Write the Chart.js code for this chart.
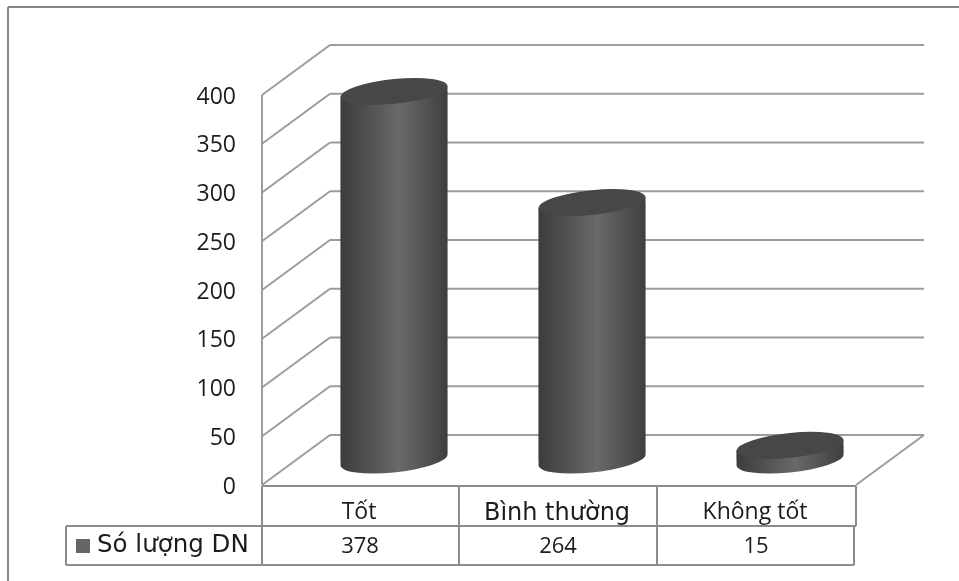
<!DOCTYPE html>
<html>
<head>
<meta charset="utf-8">
<style>
  html, body { margin: 0; padding: 0; background: #fff; }
  canvas { display: block; }
</style>
<script src="https://cdn.jsdelivr.net/npm/chart.js@4"></script>
</head>
<body>
<canvas id="chart" width="959" height="581"></canvas>
<script>
const categories = ["Tốt", "Bình thường", "Không tốt"];
const seriesName = "Só lượng DN";
const seriesValues = [378, 264, 15];
const tickLabels = ["0", "50", "100", "150", "200", "250", "300", "350", "400"];

const lineColor = "#9c9c9c";
const tableColor = "#8c8c8c";
const textColor = "#1c1c1c";
const barShare = 0.54;
const depthX = 68;
const depthY = 50;
const shear = -0.1;
const capRy = 12.4;

function sideGradient(c, center, width) {
  const g = c.createLinearGradient(center - width / 2, 0, center + width / 2, 0);
  g.addColorStop(0, "#3c3c3c");
  g.addColorStop(0.55, "#696969");
  g.addColorStop(1, "#3f3f3f");
  return g;
}

function barWidth(chart) {
  return chart.chartArea.width / categories.length * barShare;
}

function line(c, x1, y1, x2, y2) {
  c.beginPath();
  c.moveTo(x1, y1);
  c.lineTo(x2, y2);
  c.stroke();
}

// slanted ellipse, its tips stay on the edges of the bar
function slantedEllipse(c, x, y, rx) {
  c.save();
  c.transform(1, shear, 0, 1, x, y);
  c.beginPath();
  c.ellipse(0, 0, rx, capRy, 0, 0, Math.PI * 2);
  c.restore();
}

function sidePath(c, bar) {
  const rx = bar.width / 2;
  const tip = rx * shear;
  c.moveTo(bar.x - rx, bar.y - tip);
  c.lineTo(bar.x + rx, bar.y + tip);
  c.lineTo(bar.x + rx, bar.base + tip);
  c.lineTo(bar.x - rx, bar.base - tip);
  c.closePath();
}

// walls, floor and the frame round the picture
const wallsPlugin = {
  id: "walls",
  beforeDatasetsDraw(chart) {
    const c = chart.ctx;
    const { left, right } = chart.chartArea;
    const y = chart.scales.y;
    c.save();
    c.strokeStyle = "#868686";
    c.lineWidth = 2;
    line(c, 8, 7, 959, 7);
    line(c, 8, 7, 8, 581);
    c.strokeStyle = lineColor;
    tickLabels.forEach((t) => {
      const py = y.getPixelForValue(Number(t));
      line(c, left, py, left + depthX, py - depthY);
      line(c, left + depthX, py - depthY, right + depthX, py - depthY);
    });
    const zero = y.getPixelForValue(0);
    line(c, left, y.getPixelForValue(400), left, zero);
    line(c, right, zero, right + depthX, zero - depthY);
    c.restore();
  }
};

// pushes the bars to the middle of the floor and adds the ellipses
const cylinderPlugin = {
  id: "cylinder",
  beforeDatasetDraw(chart) {
    const c = chart.ctx;
    const bars = chart.getDatasetMeta(0).data;
    c.save();
    c.translate(33, -depthY / 2);
    bars.forEach((bar) => {
      c.fillStyle = sideGradient(c, bar.x, bar.width);
      slantedEllipse(c, bar.x, bar.base, bar.width / 2);
      sidePath(c, bar);
      c.fill();
    });
    c.save();
    c.beginPath();
    bars.forEach((bar) => sidePath(c, bar));
    c.clip();
  },
  afterDatasetDraw(chart) {
    const c = chart.ctx;
    c.restore();
    chart.getDatasetMeta(0).data.forEach((bar) => {
      c.fillStyle = "#474747";
      slantedEllipse(c, bar.x, bar.y, bar.width / 2);
      c.fill();
    });
    c.restore();
  }
};

// data table under the plot
const tablePlugin = {
  id: "table",
  afterDraw(chart) {
    const c = chart.ctx;
    const { left, right, bottom } = chart.chartArea;
    const x = chart.scales.x;
    const rowTop = bottom + 1;
    const rowMid = 526;
    const rowEnd = 565;
    const legendLeft = 66;
    c.save();
    c.strokeStyle = tableColor;
    c.lineWidth = 2;
    line(c, left, rowTop, right, rowTop);
    line(c, legendLeft, rowMid, right, rowMid);
    line(c, legendLeft, rowEnd, right - 2, rowEnd);
    line(c, legendLeft, rowMid, legendLeft, rowEnd);
    line(c, left, rowTop, left, rowEnd);
    const cell = x.getPixelForValue(1) - x.getPixelForValue(0);
    line(c, left + cell - 1, rowTop, left + cell - 1, rowEnd);
    line(c, left + cell * 2 - 1, rowTop, left + cell * 2 - 1, rowEnd);
    line(c, right, rowTop, right, rowMid);
    line(c, right - 2, rowMid, right - 2, rowEnd);
    c.fillStyle = "#666666";
    c.fillRect(76, 539, 14, 14);
    c.fillStyle = textColor;
    c.textBaseline = "middle";
    c.textAlign = "left";
    c.font = "24.5px 'DejaVu Sans'";
    c.fillText(seriesName, 97, 546);
    c.textAlign = "center";
    c.font = "22px 'Open Sans'";
    seriesValues.forEach((v, i) => c.fillText(String(v), x.getPixelForValue(i) - 1, 547));
    c.restore();
  }
};

new Chart(document.getElementById("chart"), {
  type: "bar",
  data: {
    labels: categories,
    datasets: [{
      label: seriesName,
      data: seriesValues,
      barPercentage: barShare,
      categoryPercentage: 1,
      borderWidth: 0,
      backgroundColor(context) {
        const chart = context.chart;
        if (!chart.chartArea || context.dataIndex === undefined) return "#555555";
        return sideGradient(chart.ctx, chart.scales.x.getPixelForValue(context.dataIndex), barWidth(chart));
      }
    }]
  },
  options: {
    responsive: false,
    animation: false,
    devicePixelRatio: 1,
    layout: { padding: { top: 95, right: 103, bottom: 0, left: 0 } },
    plugins: {
      legend: { display: false },
      tooltip: { enabled: false },
      title: { display: false }
    },
    scales: {
      x: {
        grid: { display: false, drawTicks: false },
        border: { display: false },
        afterFit(scale) { scale.height = 96; },
        ticks: {
          color: textColor,
          padding: 14,
          labelOffset: -2,
          maxRotation: 0,
          autoSkip: false,
          font(context) {
            if (context.index === 1) return { family: "'DejaVu Sans'", size: 24 };
            return { family: "'Open Sans'", size: 23 };
          }
        }
      },
      y: {
        min: 0,
        max: 400,
        grid: { display: false, drawTicks: false },
        border: { display: false },
        afterFit(scale) { scale.width = 262; },
        afterBuildTicks(scale) {
          scale.ticks = tickLabels.map((t) => ({ value: Number(t) }));
        },
        ticks: {
          color: textColor,
          padding: 26,
          labelOffset: 2,
          font: { family: "'Open Sans'", size: 23 }
        }
      }
    }
  },
  plugins: [wallsPlugin, cylinderPlugin, tablePlugin]
});
</script>
</body>
</html>
